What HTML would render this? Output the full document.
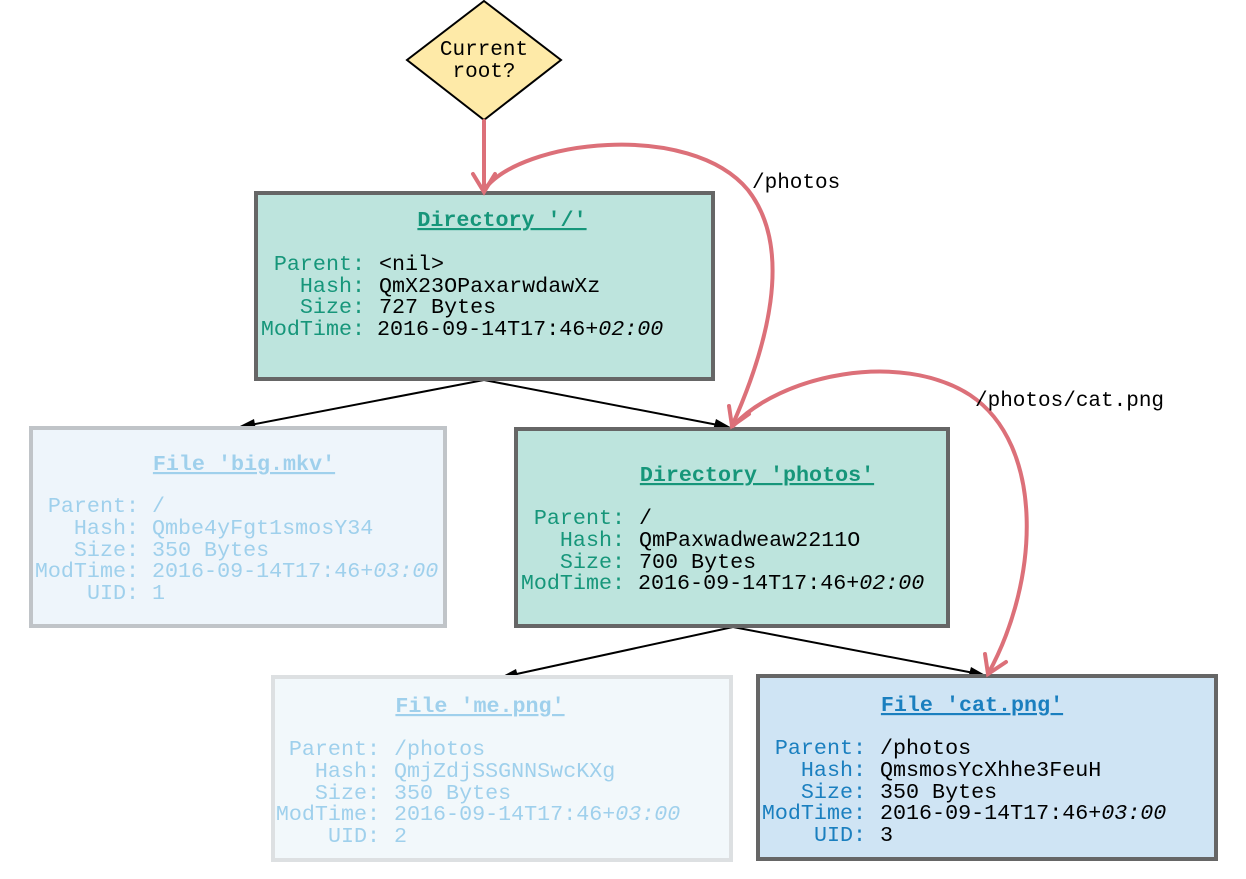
<!DOCTYPE html>
<html><head><meta charset="utf-8"><style>
html,body{margin:0;padding:0;background:#fff;}
svg{display:block;font-family:"Liberation Mono",monospace;}
</style></head><body>
<svg width="1246" height="879" viewBox="0 0 1246 879" xmlns="http://www.w3.org/2000/svg">
<polygon points="484,1 561,60 484,120 407,60" fill="#feeaa8" stroke="#000" stroke-width="2"/>
<text x="484" y="55" font-size="21" text-anchor="middle">Current</text>
<text x="484" y="77" font-size="21" text-anchor="middle">root?</text>

<g stroke="#000" stroke-width="2" fill="none">
<line x1="484" y1="380" x2="250" y2="425"/>
<line x1="484" y1="380" x2="718" y2="425"/>
<line x1="733" y1="627" x2="512" y2="675"/>
<line x1="733" y1="627" x2="974" y2="673"/>
</g>
<g fill="#000">
<polygon points="236,428 254,419 256,430"/>
<polygon points="732,428 713,430 716,419"/>
<polygon points="499,678 516,669 519,680"/>
<polygon points="987,676 968,678 971,667"/>
</g>

<rect x="256" y="193" width="457" height="186" fill="#bde4dd" stroke="#666" stroke-width="4"/>
<g font-size="21.7">
<text x="502" y="226" text-anchor="middle" fill="#16967a" font-weight="bold" text-decoration="underline">Directory '/'</text>
<g fill="#16967a" text-anchor="end">
<text x="365" y="270">Parent:</text><text x="365" y="292">Hash:</text><text x="365" y="313">Size:</text><text x="365" y="335">ModTime:</text></g>
<g fill="#000">
<text x="379" y="270">&lt;nil&gt;</text><text x="379" y="292">QmX23OPaxarwdawXz</text><text x="379" y="313">727 Bytes</text><text x="377" y="335">2016-09-14T17:46+<tspan font-style="italic">02:00</tspan></text></g>
</g>

<rect x="31" y="428" width="414" height="198" fill="#eef5fb" stroke="#c0c4c8" stroke-width="4"/>
<g font-size="21.7" fill="#9fd0ec">
<text x="244" y="470" text-anchor="middle" font-weight="bold" text-decoration="underline">File 'big.mkv'</text>
<g text-anchor="end"><text x="139" y="512">Parent:</text><text x="139" y="534">Hash:</text><text x="139" y="556">Size:</text><text x="139" y="577">ModTime:</text><text x="139" y="599">UID:</text></g>
<text x="152" y="512">/</text><text x="152" y="534">Qmbe4yFgt1smosY34</text><text x="152" y="556">350 Bytes</text><text x="152" y="577">2016-09-14T17:46+<tspan font-style="italic">03:00</tspan></text><text x="152" y="599">1</text>
</g>

<rect x="516" y="429" width="432" height="197" fill="#bde4dd" stroke="#666" stroke-width="4"/>
<g font-size="21.7">
<text x="757" y="481" text-anchor="middle" fill="#16967a" font-weight="bold" text-decoration="underline">Directory 'photos'</text>
<g fill="#16967a" text-anchor="end"><text x="625" y="524">Parent:</text><text x="625" y="546">Hash:</text><text x="625" y="568">Size:</text><text x="625" y="589">ModTime:</text></g>
<g fill="#000"><text x="639" y="524">/</text><text x="639" y="546">QmPaxwadweaw2211O</text><text x="639" y="568">700 Bytes</text><text x="638" y="589">2016-09-14T17:46+<tspan font-style="italic">02:00</tspan></text></g>
</g>

<rect x="273" y="677" width="458" height="183" fill="#f2f8fb" stroke="#dde0e2" stroke-width="4"/>
<g font-size="21.7" fill="#9fd0ec">
<text x="480" y="712" text-anchor="middle" font-weight="bold" text-decoration="underline">File 'me.png'</text>
<g text-anchor="end"><text x="380" y="755">Parent:</text><text x="380" y="777">Hash:</text><text x="380" y="799">Size:</text><text x="380" y="820">ModTime:</text><text x="380" y="842">UID:</text></g>
<text x="394" y="755">/photos</text><text x="394" y="777">QmjZdjSSGNNSwcKXg</text><text x="394" y="799">350 Bytes</text><text x="394" y="820">2016-09-14T17:46+<tspan font-style="italic">03:00</tspan></text><text x="394" y="842">2</text>
</g>

<rect x="758" y="676" width="458" height="183" fill="#cfe4f4" stroke="#666" stroke-width="4"/>
<g font-size="21.7">
<text x="972" y="711" text-anchor="middle" fill="#1a7fbf" font-weight="bold" text-decoration="underline">File 'cat.png'</text>
<g fill="#1a7fbf" text-anchor="end"><text x="866" y="754">Parent:</text><text x="866" y="776">Hash:</text><text x="866" y="798">Size:</text><text x="866" y="819">ModTime:</text><text x="866" y="841">UID:</text></g>
<g fill="#000"><text x="880" y="754">/photos</text><text x="880" y="776">QmsmosYcXhhe3FeuH</text><text x="880" y="798">350 Bytes</text><text x="880" y="819">2016-09-14T17:46+<tspan font-style="italic">03:00</tspan></text><text x="880" y="841">3</text></g>
</g>

<g stroke="#dc7079" stroke-width="4" fill="none" stroke-linecap="round">
<line x1="484" y1="121" x2="484" y2="191"/>
<polyline points="473,174 484,192 495,174"/>
<path d="M484,190 C520,140 690,120 748,190 C795,250 766,350 732,426"/>
<polyline points="729,406 732,426 749,414"/>
<path d="M733,426 C780,375 900,350 970,395 C1045,445 1040,580 988,674"/>
<polyline points="985,654 988,674 1006,662"/>
</g>
<g font-size="21" fill="#000">
<text x="752" y="188">/photos</text>
<text x="975" y="406">/photos/cat.png</text>
</g>
</svg>
</body></html>
